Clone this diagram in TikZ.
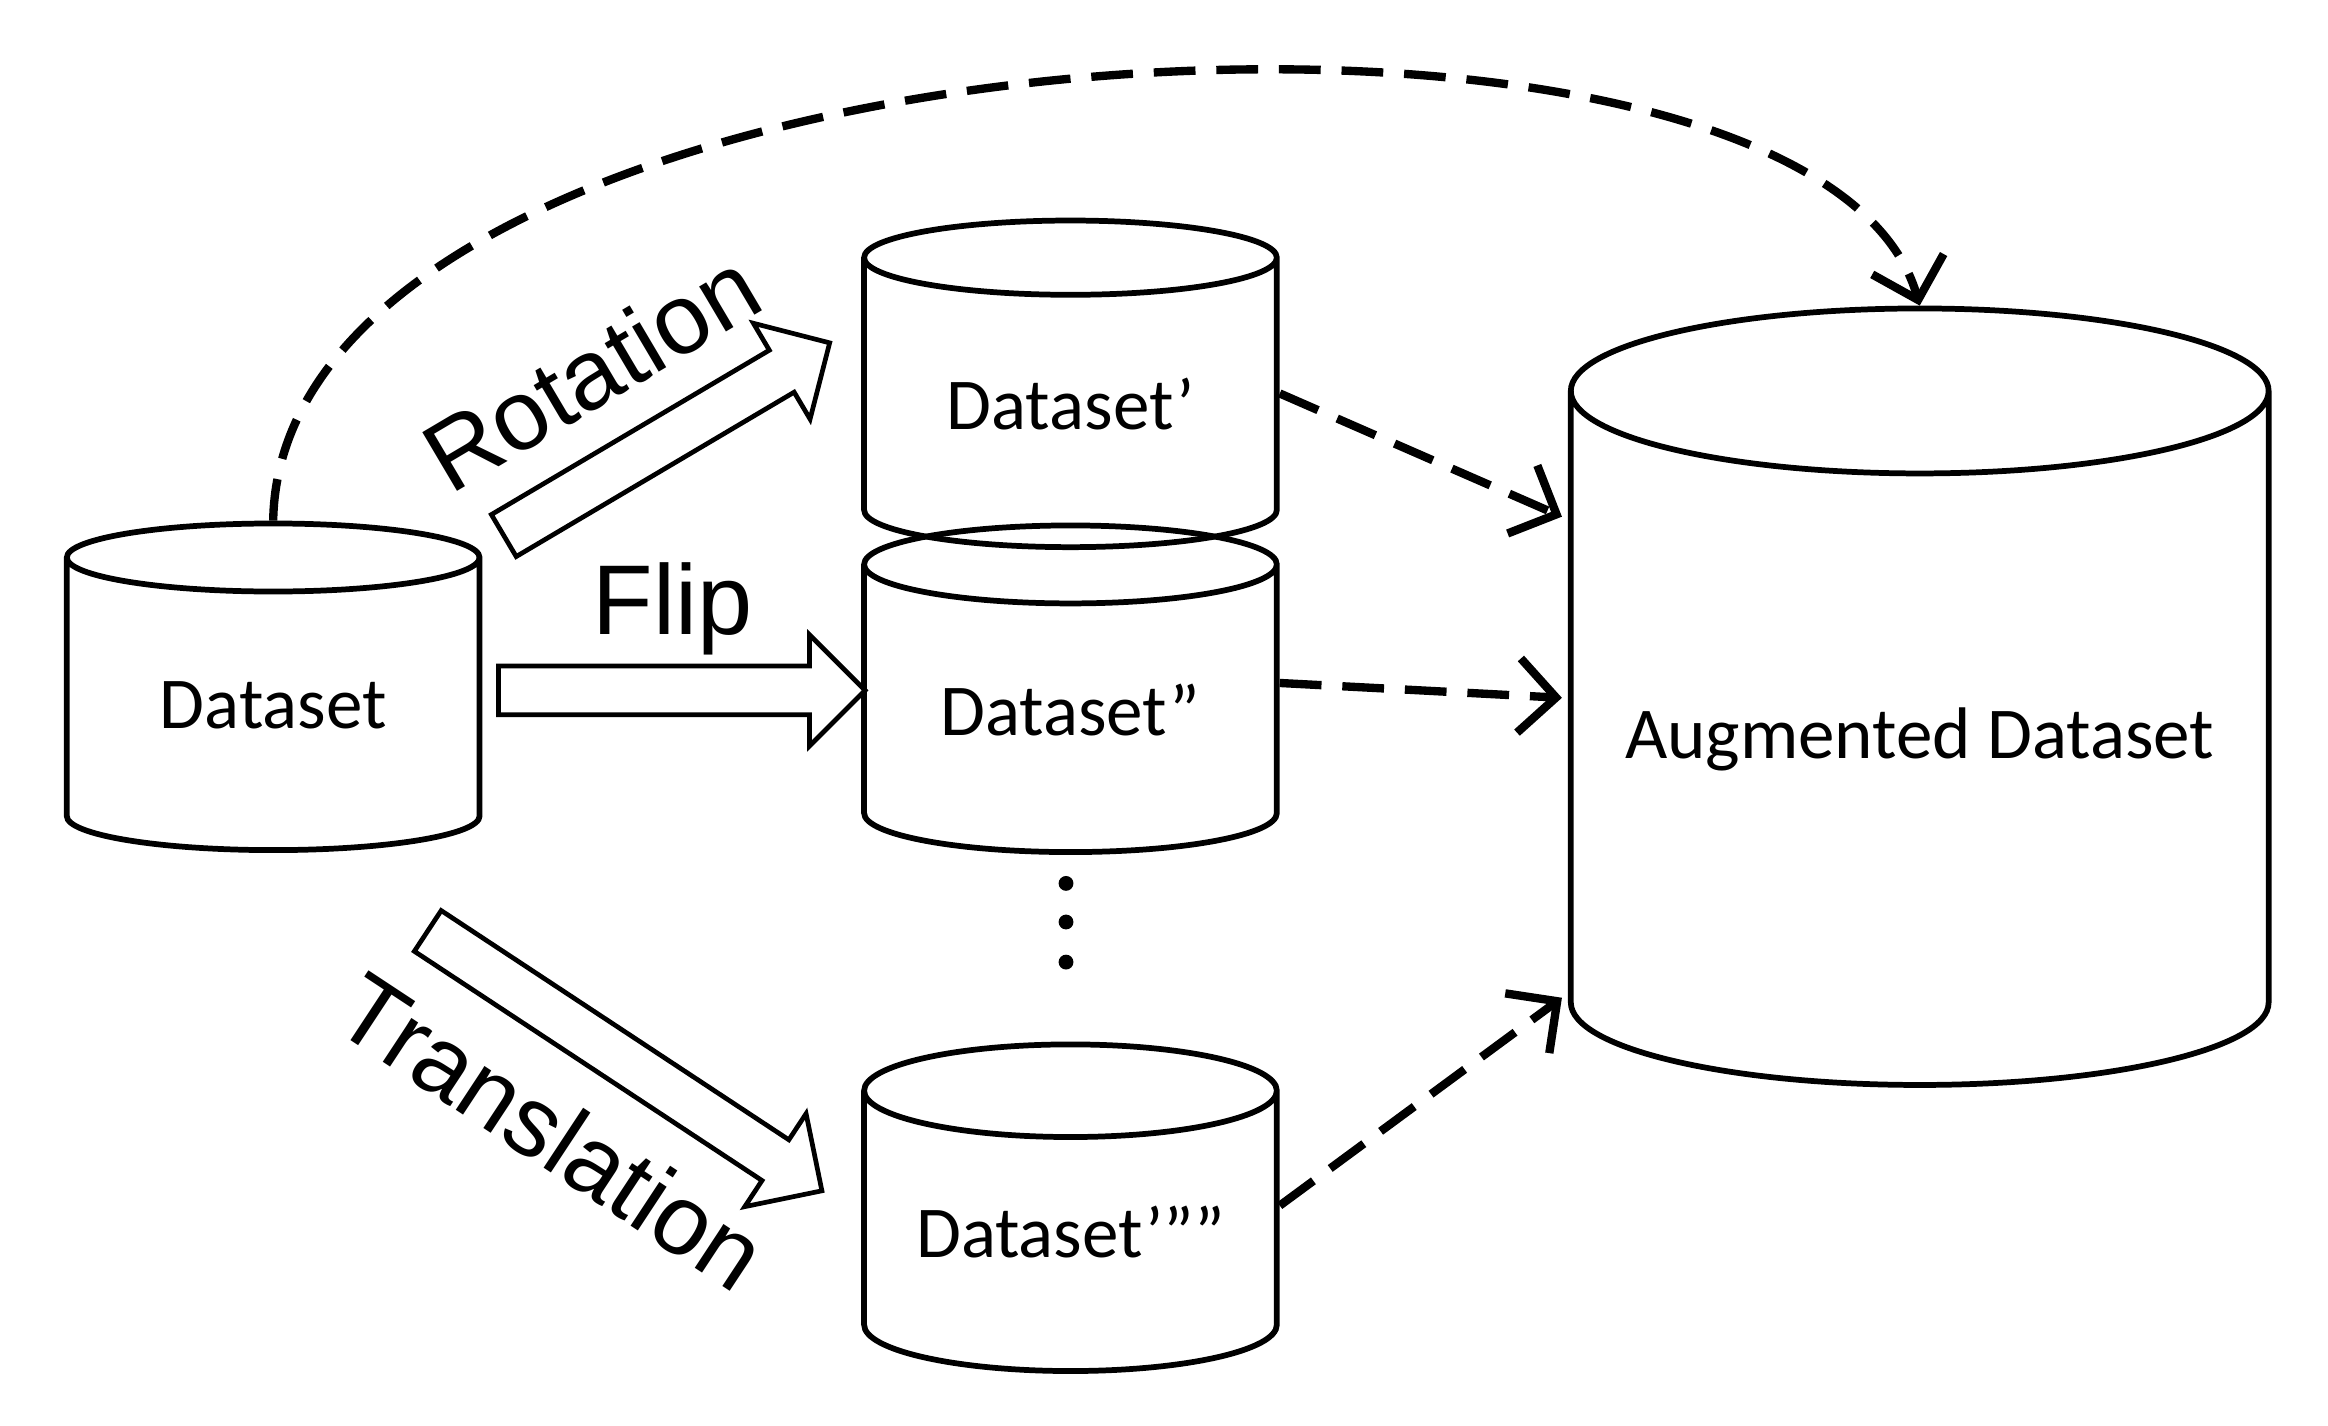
\documentclass[tikz,border=0pt]{standalone}
\usepackage{fontspec}
\setmainfont{Carlito}
\newfontfamily\labelfont{Liberation Sans}
\usetikzlibrary{shapes.geometric,shapes.arrows,arrows.meta}

\begin{document}
\begin{tikzpicture}[
				db/.style={draw, cylinder, shape border rotate=90, line width=1.1pt,
					aspect=0.3, minimum width=2.78cm, minimum height=2.2cm, inner sep=0pt, font=\fontsize{14}{14}\selectfont},
				blockarrow/.style={draw, single arrow, line width=0.9pt, fill=white, inner xsep=0pt, inner ysep=0.14cm,
					minimum width=0.75cm, single arrow head extend=0.2cm},
				flow/.style={line width=1.6pt, dash pattern=on 8pt off 4pt,
					-{Straight Barb[length=2.5mm,width=5mm,line width=1.6pt]}},
				tag/.style={font=\labelfont\fontsize{19}{19}\selectfont},
				dot/.style={circle, fill, inner sep=0pt, minimum size=1mm}
				]
				\useasboundingbox (0,0) rectangle (15.68,9.6);
				
				\node[db] (src) at (1.84,4.85) {Dataset};
				\node[db] (rot) at (7.21,6.88) {Dataset’};
				\node[db] (flp) at (7.21,4.82) {Dataset”};
				\node[db] (trn) at (7.21,1.3) {Dataset’””};
				\node[db, aspect=0.28, minimum width=4.7cm, minimum height=5.23cm] (aug) at (12.93,4.62) {Augmented Dataset};
				\node[dot] (dot1) at (7.18,3.65) {};
				\node[dot] (dot2) at (7.18,3.39) {};
				\node[dot] (dot3) at (7.18,3.12) {};
				
				\node[blockarrow, minimum height=2.55cm, rotate=30.6] (rotarrow) at (4.42,6.6) {};
				\node[blockarrow, minimum height=2.47cm] (fliparrow) at (4.51,4.95) {};
				\node[blockarrow, minimum height=3.18cm, rotate=-33.4] (trnarrow) at (4.14,2.5) {};
				
				\node[tag, rotate=30.6] (rotlabel) at (3.98,7.1) {Rotation};
				\node[tag] (fliplabel) at (4.53,5.5) {Flip};
				\node[tag, rotate=-33.4] (trnlabel) at (3.72,1.98) {Translation};
				
				\draw[flow] (rot.east |- 0,6.95) -- (10.52,6.12);
				\draw[flow] (flp.east |- 0,5.0) -- (10.52,4.9);
				\draw[flow] (trn.east |- 0,1.48) -- (10.52,2.88);
				\draw[flow] (src.north) .. controls (1.9,9.5) and (12.2,10.1) .. (aug.north);
				
			\end{tikzpicture}
\end{document}
